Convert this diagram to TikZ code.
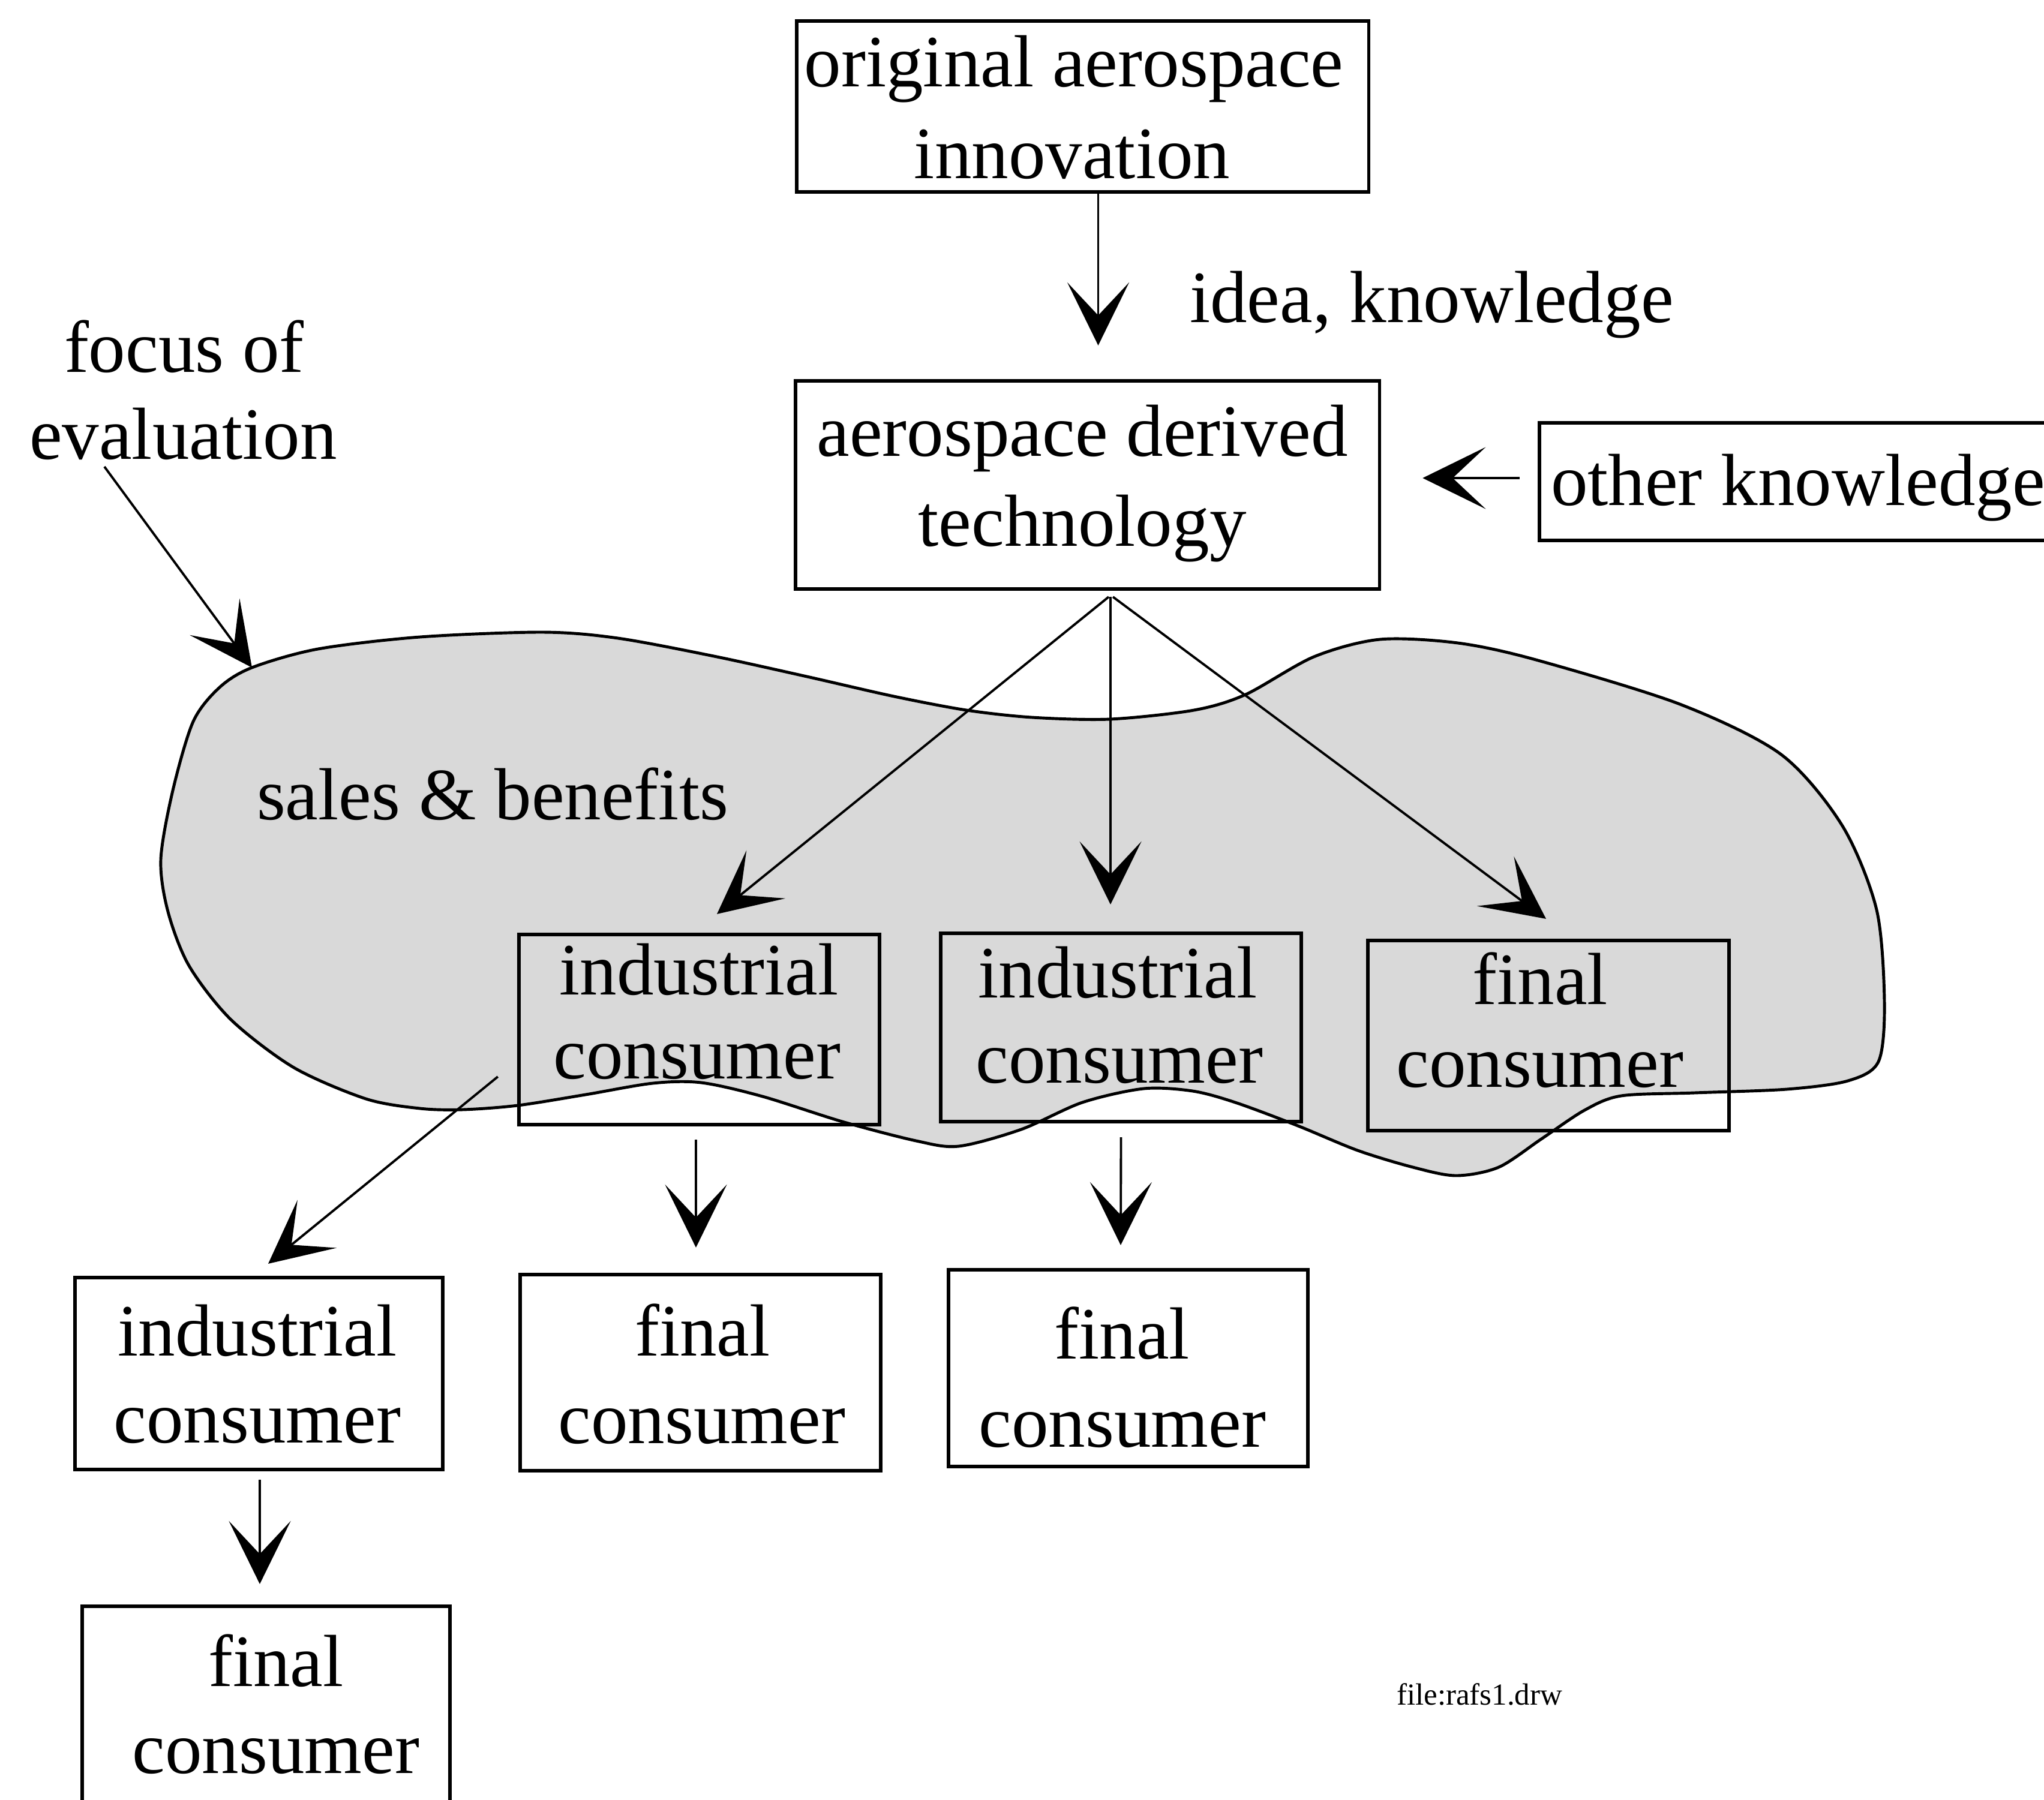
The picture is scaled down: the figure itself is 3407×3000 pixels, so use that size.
\documentclass[tikz,border=0pt]{standalone}
\usepackage{fontspec}
\setmainfont{Liberation Serif}
\usetikzlibrary{arrows.meta}
\definecolor{blobgray}{gray}{0.85}
\begin{document}
\begin{tikzpicture}[x=0.01cm, y=-0.01cm,
  box/.style={draw, line width=1.6pt, inner sep=0pt, outer sep=0pt},
  txt/.style={inner sep=0pt, outer sep=0pt, anchor=base, font=\fontsize{35}{43}\selectfont},
  txtw/.style={txt, anchor=base west},
  arr/.style={line width=1.1pt, -{Stealth[length=1.05cm, width=1.03cm, inset=0.55cm]}},
  blob/.style={draw, fill=blobgray, line width=1.4pt},
]
\useasboundingbox (0,0) rectangle (3407,3000);
\clip (0,0) rectangle (3407,3000);
\fill[white] (0,0) rectangle (3407,3000);

% region of evaluation (sales & benefits)
\path[blob] plot[smooth cycle, tension=0.5] coordinates {
  (420,1113) (530,1082) (700,1062) (905,1054) (1030,1064) (1190,1094)
  (1345,1128) (1490,1161) (1611,1184) (1720,1196) (1850,1199) (1990,1184)
  (2076,1158) (2190,1095) (2300,1066) (2430,1072) (2560,1100) (2800,1174)
  (2969,1258) (3071,1377) (3128,1517) (3141,1672) (3131,1770) (3080,1802)
  (2978,1816) (2824,1822) (2702,1827) (2641,1851) (2569,1899) (2498,1946)
  (2427,1960) (2355,1946) (2263,1918) (2161,1876) (2059,1838) (1988,1819)
  (1906,1815) (1804,1838) (1702,1883) (1598,1911) (1527,1902) (1404,1870)
  (1271,1828) (1169,1805) (1088,1806) (976,1825) (863,1843) (771,1850)
  (700,1848) (610,1832) (490,1780) (385,1700) (315,1610) (280,1520)
  (268,1433) (288,1318) (322,1203) (366,1146)};
\coordinate (blobtip) at (420,1113);

% boxes
\node[box, minimum width=9.53cm, minimum height=2.85cm] (b1) at (1804.5,177.5) {};
\node[box, minimum width=9.73cm, minimum height=3.47cm] (b2) at (1812.5,808.5) {};
\node[box, minimum width=8.64cm, minimum height=1.96cm] (ok) at (2998,803) {};
\node[box, minimum width=6.01cm, minimum height=3.17cm] (ic1) at (1165.5,1716.5) {};
\node[box, minimum width=6.01cm, minimum height=3.14cm] (ic2) at (1868.5,1713) {};
\node[box, minimum width=6.02cm, minimum height=3.17cm] (fc1) at (2581,1726.5) {};
\node[box, minimum width=6.13cm, minimum height=3.20cm] (ic3) at (431.5,2290) {};
\node[box, minimum width=6.01cm, minimum height=3.27cm] (fc2) at (1167.5,2288.5) {};
\node[box, minimum width=5.99cm, minimum height=3.28cm] (fc3) at (1880.5,2281) {};
\node[box, minimum width=6.13cm, minimum height=3.42cm] (fc4) at (443.5,2849) {};

% box texts
\node[txt] (b1a) at (1790,145) {original aerospace};
\node[txt] (b1b) at (1787,297) {innovation};
\node[txt] (b2a) at (1804,760) {aerospace derived};
\node[txt] (b2b) at (1804,910) {technology};
\node[txtw] (okt) at (2585,842) {other knowledge};
\node[txt] (ic1a) at (1165,1658) {industrial};
\node[txt] (ic1b) at (1162,1798) {consumer};
\node[txt] (ic2a) at (1863,1663) {industrial};
\node[txt] (ic2b) at (1866,1805) {consumer};
\node[txt] (fc1a) at (2567,1674) {final};
\node[txt] (fc1b) at (2567,1812) {consumer};
\node[txt] (ic3a) at (429,2260) {industrial};
\node[txt] (ic3b) at (429,2405) {consumer};
\node[txt] (fc2a) at (1171,2260) {final};
\node[txt] (fc2b) at (1170,2406) {consumer};
\node[txt] (fc3a) at (1870,2265) {final};
\node[txt] (fc3b) at (1871,2412) {consumer};
\node[txt] (fc4a) at (460,2811) {final};
\node[txt] (fc4b) at (460,2956) {consumer};

% free labels
\node[txtw] (idea) at (1983,537) {idea, knowledge};
\node[txtw] (foc) at (107,620) {focus of};
\node[txtw] (ev) at (49,765) {evaluation};
\node[txtw] (sales) at (428,1366) {sales \& benefits};
\node[txtw, font=\fontsize{14.5}{17}\selectfont] (fname) at (2328,2842) {file:rafs1.drw};

% connectors
\draw[arr] ([shift={(26,0)}]b1.south) -- ([shift={(18,-59)}]b2.north);
\draw[arr] ([shift={(-33,-6)}]ok.west) -- ([shift={(72,-11.5)}]b2.east);
\draw[arr] ([shift={(35.5,13)}]b2.south) -- ([shift={(29.5,-34)}]ic1.north);
\draw[arr] ([shift={(38.5,13)}]b2.south) -- ([shift={(-17.5,-48)}]ic2.north);
\draw[arr] ([shift={(42.5,13)}]b2.south) -- ([shift={(-4,-36)}]fc1.north);
\draw[arr] ([shift={(-35,78.5)}]ic1.west) -- ([shift={(15.5,-23)}]ic3.north);
\draw[arr] ([shift={(-5.5,25)}]ic1.south) -- ([shift={(-7.5,-45)}]fc2.north);
\draw[arr] ([shift={(0,26)}]ic2.south) -- ([shift={(-12.5,-41)}]fc3.north);
\draw[arr] ([shift={(1.5,17)}]ic3.south) -- ([shift={(-10.5,-37)}]fc4.north);
\draw[arr] ([shift={(125,13)}]ev.base west) -- (blobtip);
\end{tikzpicture}
\end{document}
